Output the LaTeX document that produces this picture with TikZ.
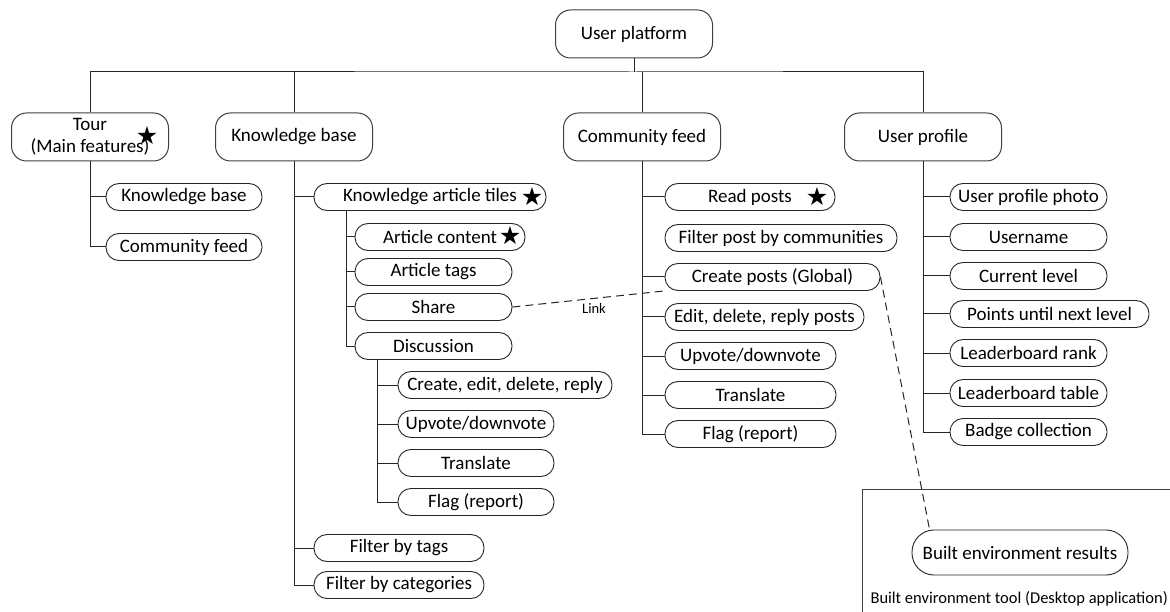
\documentclass[tikz,border=0pt]{standalone}
\usepackage{fontspec}
\setmainfont{Carlito}
\newfontfamily\symfont{DejaVu Sans}
\usetikzlibrary{calc}
\begin{document}
\begin{tikzpicture}[x=1pt,y=-1pt,
  every node/.style={font=\fontsize{19}{22}\selectfont},
  main/.style={draw=black!75, fill=white, rounded corners=15pt, minimum width=157pt, minimum height=48pt, inner sep=0pt, align=center, line width=1pt},
  leaf/.style={draw=black!85, fill=white, rounded corners=13pt, minimum height=27pt, inner sep=0pt, line width=0.9pt},
  wire/.style={draw=black!85, line width=1pt},
  link/.style={draw=black!85, line width=1pt, dash pattern=on 8pt off 5pt},
  starmark/.style={font=\symfont\fontsize{25}{25}\selectfont, inner sep=0pt}
]
\useasboundingbox (0,0) rectangle (1170,612);
\fill[white] (0,0) rectangle (1170,612);

% tool frame
\draw[draw=black!75, line width=1pt] (1170,489) -- (862,489) -- (862,612);
\node[anchor=west, font=\fontsize{16.5}{18}\selectfont] (tool) at (867,599) {Built environment tool (Desktop application)};

% top level
\node[main] (plat) at (634,34) {User platform};
\node[main] (tour) at (90,137) {Tour\\(Main features)};
\node[main] (kb) at (294,137) {Knowledge base};
\node[main] (cf) at (642,137) {Community feed};
\node[main] (prof) at (923,137) {User profile};
\coordinate (bus) at (634,72);

% tour children
\node[leaf, minimum width=156pt] (tkb) at (184,197) {Knowledge base};
\node[leaf, minimum width=156pt] (tcf) at (184,247) {Community feed};

% knowledge base children
\node[leaf, minimum width=232pt] (tiles) at (430,197) {Knowledge article tiles};
\node[leaf, minimum width=170pt] (content) at (440,237) {Article content};
\node[leaf, minimum width=157pt] (tags) at (433.5,272) {Article tags};
\node[leaf, minimum width=157pt] (share) at (433.5,307) {Share};
\node[leaf, minimum width=157pt] (disc) at (433.5,346) {Discussion};
\node[leaf, minimum width=214pt] (dcreate) at (505,385) {Create, edit, delete, reply};
\node[leaf, minimum width=156pt] (dup) at (476,424) {Upvote/downvote};
\node[leaf, minimum width=156pt] (dtr) at (476,463) {Translate};
\node[leaf, minimum width=156pt] (dfl) at (476,502) {Flag (report)};
\node[leaf, minimum width=170pt] (ftags) at (399,548) {Filter by tags};
\node[leaf, minimum width=170pt] (fcat) at (399,585) {Filter by categories};
\coordinate (kt) at (346,211);
\coordinate (kd) at (377,360);

% community feed children
\node[leaf, minimum width=170pt] (read) at (750,197) {Read posts};
\node[leaf, minimum width=232pt] (filt) at (781,238) {Filter post by communities};
\node[leaf, minimum width=215pt] (createp) at (772.5,277) {Create posts (Global)};
\node[leaf, minimum width=199pt] (edit) at (764.5,317) {Edit, delete, reply posts};
\node[leaf, minimum width=171pt] (cup) at (750.5,356) {Upvote/downvote};
\node[leaf, minimum width=171pt] (ctr) at (750.5,395) {Translate};
\node[leaf, minimum width=171pt] (cfl) at (750.5,434) {Flag (report)};

% user profile children
\node[leaf, minimum width=157pt] (photo) at (1028.5,197) {User profile photo};
\node[leaf, minimum width=157pt] (uname) at (1028.5,237) {Username};
\node[leaf, minimum width=157pt] (level) at (1028.5,276) {Current level};
\node[leaf, minimum width=199pt] (points) at (1049.5,314) {Points until next level};
\node[leaf, minimum width=157pt] (lrank) at (1028.5,353) {Leaderboard rank};
\node[leaf, minimum width=157pt] (ltable) at (1028.5,393) {Leaderboard table};
\node[leaf, minimum width=157pt] (badge) at (1028.5,432) {Badge collection};

% built environment results
\node[leaf, minimum width=216pt, minimum height=45pt, rounded corners=22pt] (ber) at (1020,552.5) {Built environment results};

% stars
\node[starmark] (s1) at (147,136) {★};
\node[starmark] (s2) at (532,197) {★};
\node[starmark] (s3) at (510,236) {★};
\node[starmark] (s4) at (817,197) {★};

% bus
\draw[wire] (plat.south) -- (bus);
\draw[wire] (tour.north) |- (bus) -| (prof.north);
\draw[wire] (kb.north) -- (kb.north |- bus);
\draw[wire] (cf.north) -- (cf.north |- bus);

% tour tree
\draw[wire] (tour.south) |- (tkb.west);
\draw[wire] (tour.south) |- (tcf.west);
% kb tree
\foreach \c in {tiles,ftags,fcat} \draw[wire] (kb.south) |- (\c.west);
\foreach \c in {content,tags,share,disc} \draw[wire] (kt) |- (\c.west);
\foreach \c in {dcreate,dup,dtr,dfl} \draw[wire] (kd) |- (\c.west);
% community tree
\foreach \c in {read,createp,edit,cup,ctr,cfl} \draw[wire] (cf.south) |- (\c.west);
% profile tree
\foreach \c in {photo,uname,level,points,lrank,ltable,badge} \draw[wire] (prof.south) |- (\c.west);

% links
\draw[link] (share.east) -- (createp.south west);
\node[font=\fontsize{14.5}{16}\selectfont] (lk) at (594,308) {Link};
\draw[link] (createp.east) -- ($(ber.north west)+(18,0)$);
\end{tikzpicture}
\end{document}
